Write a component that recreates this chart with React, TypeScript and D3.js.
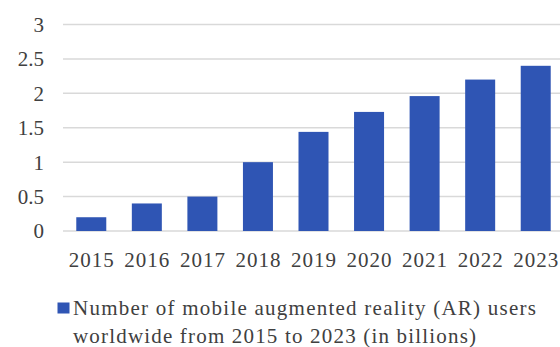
import React from "react";
import * as d3 from "d3";

const years = ["2015", "2016", "2017", "2018", "2019", "2020", "2021", "2022", "2023"];
const users = [0.2, 0.4, 0.5, 1.0, 1.44, 1.73, 1.96, 2.2, 2.4];
const yTicks = [0, 0.5, 1, 1.5, 2, 2.5, 3];
const legendLines = [
  "Number of mobile augmented reality (AR) users",
  "worldwide from 2015 to 2023 (in billions)",
];
const legendWidths = [463, 403];

const W = 560;
const H = 347;
const FONT = '"Liberation Serif", "Times New Roman", Times, "DejaVu Serif", serif';
const TEXT = "#404040";
const BAR = "#2F55B4";
const GRID = "#d9d9d9";
const ts: React.CSSProperties = { fontFamily: FONT, fontSize: 21 };

export default function App() {
  const x = d3.scaleBand<string>().domain(years).range([63.5, 563.5]).paddingInner(0.46).paddingOuter(0.23);
  const y = d3.scaleLinear().domain([0, 3]).range([231, 24.5]);

  return (
    <svg
      width={W}
      height={H}
      style={{ position: "absolute", left: 0, top: 0, background: "#fff" }}
    >
      {yTicks.map((t) => (
        <g key={t}>
          <line x1={63} x2={W} y1={y(t)} y2={y(t)} stroke={GRID} strokeWidth={1.5} />
          <text x={44} y={y(t)} dy="0.35em" textAnchor="end" style={ts} fill={TEXT}>
            {d3.format("~g")(t)}
          </text>
        </g>
      ))}
      {years.map((yr, i) => (
        <rect
          key={yr}
          x={x(yr)}
          y={y(users[i])}
          width={x.bandwidth()}
          height={y(0) - y(users[i])}
          fill={BAR}
        />
      ))}
      {years.map((yr) => (
        <text
          key={"l" + yr}
          x={(x(yr) as number) + x.bandwidth() / 2}
          y={267}
          textAnchor="middle"
          style={ts}
          fill={TEXT}
          textLength={45}
          lengthAdjust="spacing"
        >
          {yr}
        </text>
      ))}
      <rect x={57.5} y={302.5} width={12} height={11} fill={BAR} />
      {legendLines.map((l, i) => (
        <text
          key={i}
          x={73}
          y={315 + i * 28}
          style={ts}
          fill={TEXT}
          textLength={legendWidths[i]}
          lengthAdjust="spacing"
        >
          {l}
        </text>
      ))}
    </svg>
  );
}
